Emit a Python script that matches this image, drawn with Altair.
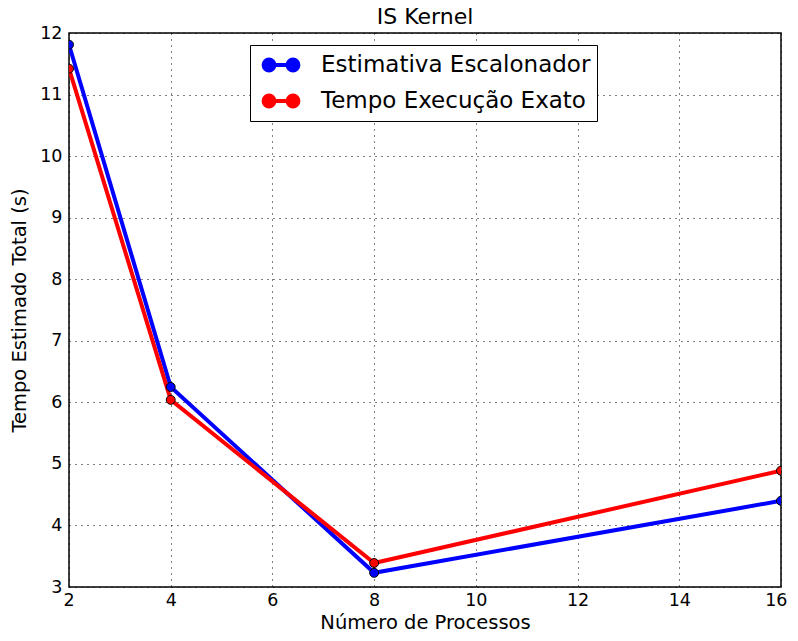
import altair as alt
import pandas as pd

processos = [2, 4, 8, 16]
estimativa = [11.81, 6.25, 3.23, 4.40]
exato = [11.42, 6.04, 3.39, 4.89]
series = ["Estimativa Escalonador", "Tempo Execução Exato"]
colors = ["#0000ff", "#ff0000"]

rows = []
for s, vals in zip(series, [estimativa, exato]):
    for x, y in zip(processos, vals):
        rows.append({"x": x, "y": y, "s": s})
df = pd.DataFrame(rows)

FONT = "DejaVu Sans"
sym = ("M-1,0L1,0"
       "M-0.55,0A0.45,0.45,0,1,1,-1.45,0A0.45,0.45,0,1,1,-0.55,0Z"
       "M1.45,0A0.45,0.45,0,1,1,0.55,0A0.45,0.45,0,1,1,1.45,0Z")

color = alt.Color("s:N", scale=alt.Scale(domain=series, range=colors),
                  sort=series,
                  legend=alt.Legend(title=None, orient="none", legendX=181, legendY=12,
                                    symbolType=sym, symbolSize=576, symbolStrokeWidth=4,
                                    symbolOffset=11,
                                    labelFontSize=23, labelFont=FONT, labelLimit=500,
                                    labelOffset=26, rowPadding=8,
                                    strokeColor="black", padding=6, fillColor="white",
                                    cornerRadius=0))

xenc = alt.X("x:Q", scale=alt.Scale(domain=[2, 16], nice=False),
             axis=alt.Axis(values=list(range(2, 17, 2)), title="Número de Processos",
                           labelFlush=True, labelFlushOffset=6))
yenc = alt.Y("y:Q", scale=alt.Scale(domain=[3, 12], nice=False, zero=False),
             axis=alt.Axis(values=list(range(3, 13)), title="Tempo Estimado Total (s)",
                           labelFlush=False))

base = alt.Chart(df)
lines = base.mark_line(strokeWidth=4, clip=True).encode(x=xenc, y=yenc, color=color, detail="s:N")
points = base.mark_point(filled=True, size=80, stroke="black", strokeWidth=1, opacity=1,
                         clip=True).encode(
    x=xenc, y=yenc, fill=alt.Fill("s:N", scale=alt.Scale(domain=series, range=colors), legend=None))

chart = alt.layer(lines, points).properties(
    width=712, height=554,
    title=alt.TitleParams("IS Kernel", font=FONT, fontSize=22, fontWeight="normal",
                          offset=-5, frame="group"),
    autosize=alt.AutoSizeParams(type="none"),
    padding={"left": 61, "top": 25, "right": 9, "bottom": 46},
).configure_view(stroke="black", strokeWidth=1.5).configure_axis(
    labelFont=FONT, labelFontSize=17.5, labelColor="black",
    titleFont=FONT, titleFontSize=19.5, titleFontWeight="normal", titleColor="black",
    grid=True, gridColor="black", gridDash=[1, 5], gridWidth=1, gridOpacity=1,
    ticks=False, domain=False,
).configure_axisX(titlePadding=5, labelPadding=4).configure_axisY(titlePadding=10, labelPadding=7)

chart.save("out.html", embed_options={"renderer": "svg", "actions": False})
